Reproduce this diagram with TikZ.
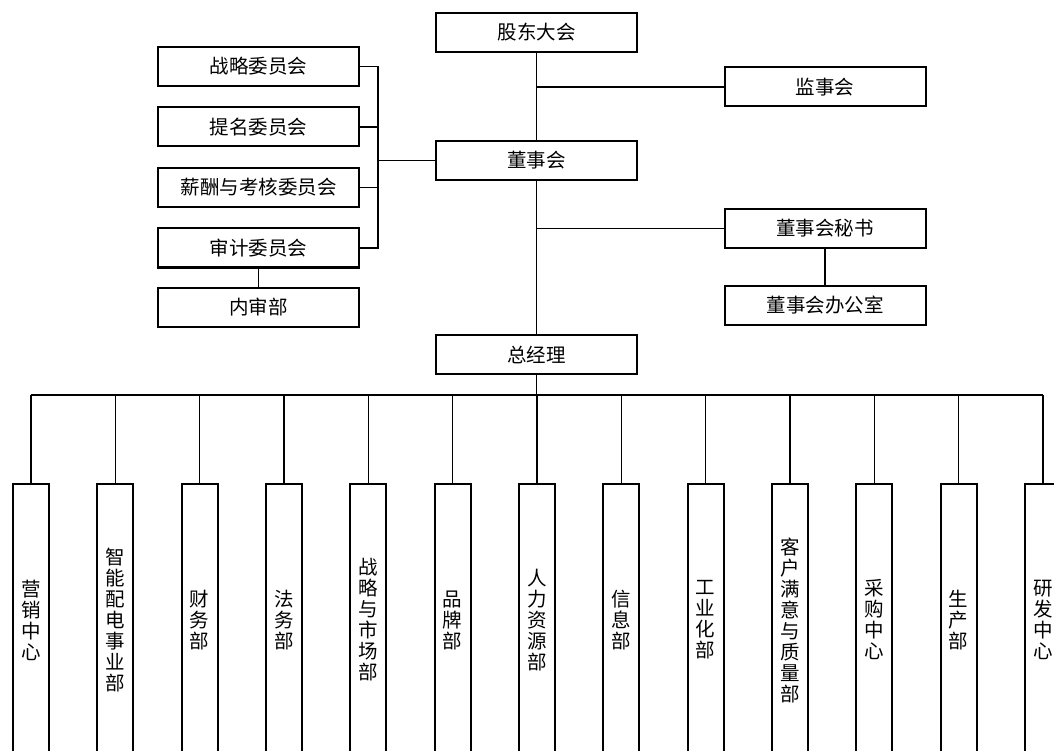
\documentclass[tikz,border=0pt]{standalone}
\usepackage{fontspec}
\newfontfamily\cjk{Noto Sans CJK SC}
\begin{document}
\begin{tikzpicture}[x=1pt,y=-1pt,
  box/.style={draw,line width=2pt,minimum width=201pt,minimum height=39pt,inner sep=0pt,font=\cjk\fontsize{19.5}{21}\selectfont},
  vbox/.style={draw,line width=2pt,minimum width=36pt,minimum height=272pt,inner sep=0pt,align=center,font=\cjk\fontsize{19.5}{21}\selectfont},
  conn/.style={line width=1.5pt}]
\clip (0,0) rectangle (1054,751);
\useasboundingbox (0,0) rectangle (1054,751);
\fill[white] (0,0) rectangle (1054,751);
% top
\node[box] (gd) at (536.5,32.5) {股东大会};
\node[box] (dsh) at (536.5,160.5) {董事会};
\node[box] (zjl) at (536.5,354.5) {总经理};
\node[box] (jsh) at (825,87) {监事会};
\node[box] (ms) at (825,228.5) {董事会秘书};
\node[box] (bgs) at (825,305) {董事会办公室};
\node[box] (zl) at (258.5,66.5) {战略委员会};
\node[box] (tm) at (258.5,127) {提名委员会};
\node[box] (xc) at (258.5,187.5) {薪酬与考核委员会};
\node[box] (sj) at (258.5,248) {审计委员会};
\node[box] (ns) at (258.5,307.5) {内审部};
% connectors top
\draw[conn] (gd.south) -- (dsh.north);
\draw[conn] (dsh.south) -- (zjl.north);
\draw[conn] (jsh.west) -- (jsh.west -| gd.south);
\draw[conn] (ms.west) -- (ms.west -| gd.south);
\draw[conn] (ms.south) -- (bgs.north);
\draw[conn] (sj.south) -- (ns.north);
\coordinate (bx) at (378,160.5);
\draw[conn] (zl.east) -| (bx |- sj.east) -- (sj.east);
\draw[conn] (tm.east) -- (tm.east -| bx);
\draw[conn] (xc.east) -- (xc.east -| bx);
\draw[conn] (bx) -- (dsh.west);
% bottom boxes
\foreach \i/\t in {0/营\\销\\中\\心,1/智\\能\\配\\电\\事\\业\\部,2/财\\务\\部,3/法\\务\\部,4/战\\略\\与\\市\\场\\部,5/品\\牌\\部,6/人\\力\\资\\源\\部,7/信\\息\\部,8/工\\业\\化\\部,9/客\\户\\满\\意\\与\\质\\量\\部,10/采\\购\\中\\心,11/生\\产\\部,12/研\\发\\中\\心}{
  \node[vbox] (b\i) at ({31+84.33*\i},620) {\t};
}
\coordinate (bus) at (536.5,395);
\draw[conn] (zjl.south) -- (bus);
\draw[conn] (b0.north |- bus) -- (b12.north |- bus);
\foreach \i in {0,...,12}{
  \draw[conn] (b\i.north) -- (b\i.north |- bus);
}
\end{tikzpicture}
\end{document}
